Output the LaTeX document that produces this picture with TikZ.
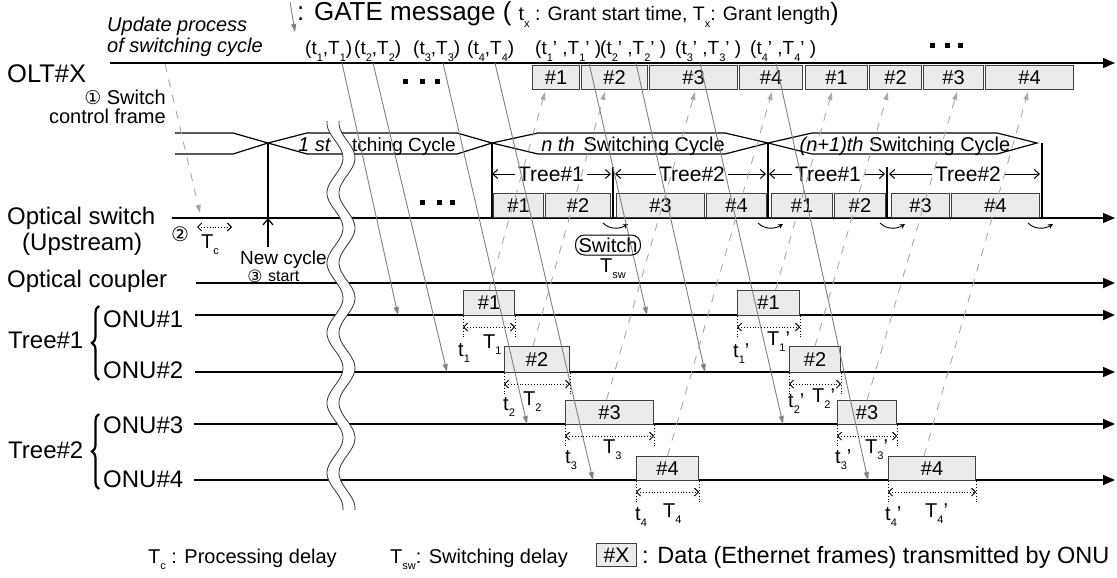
\documentclass[tikz,border=0pt]{standalone}
\usepackage{fontspec}
\setmainfont{Liberation Sans}
\newfontfamily\dejavu{DejaVu Sans}
\usetikzlibrary{arrows.meta,decorations.pathreplacing}
\newcommand\fs[1]{\fontsize{#1}{#1}\selectfont}
\newcommand\lo[1]{\raisebox{-0.6ex}{\fontsize{11}{11}\selectfont #1}}
\newcommand\frm[6]{\node[frame, anchor=north west, minimum width={(#4-#2)*1pt}, minimum height={(#5-#3)*1pt}] (#1) at (#2,#3) {#6};}
\newcommand\measure[1]{%
  \draw[mline] (#1.south west) -- ++(0,23);
  \draw[mline] (#1.south east) -- ++(0,23);
  \draw[meas] ([yshift=-11pt]#1.south west) -- ([yshift=-11pt]#1.south east);}
\definecolor{boxfill}{HTML}{EBEBEB}
\definecolor{gatec}{HTML}{808080}
\definecolor{datac}{HTML}{A8A8A8}
\begin{document}
\begin{tikzpicture}[x=1pt,y=-1pt,
  lbl/.style={font=\fs{24}, inner sep=0pt},
  txt/.style={font=\fs{20}, inner sep=0pt},
  tline/.style={line width=1.1pt, -{Triangle[length=12pt,width=10pt]}},
  tthick/.style={line width=2pt, -{Triangle[length=12pt,width=10pt]}},
  frame/.style={draw=black!75, fill=boxfill, line width=1.1pt, inner sep=0pt, font=\fs{20}},
  gate/.style={draw=gatec, line width=0.9pt, -{Triangle[length=8pt,width=5pt]}},
  data/.style={draw=datac, line width=0.9pt, dash pattern=on 8pt off 8pt, -{Triangle[length=8pt,width=5pt]}},
  meas/.style={dotted, line width=0.9pt, {Straight Barb[length=4pt,width=8pt]}-{Straight Barb[length=4pt,width=8pt]}},
  mline/.style={dotted, line width=0.9pt},
  cyc/.style={line width=2pt},
  hexline/.style={line width=1.2pt},
  treearr/.style={line width=1pt, -{Straight Barb[length=5pt,width=9pt]}},
  swarr/.style={line width=0.9pt, -{Stealth[length=5pt,width=5pt]}},
]
\useasboundingbox (0,0) rectangle (1117,578);

% ---------- time lines ----------
\coordinate (oltS) at (110,63);   \coordinate (oltE) at (1115,63);
\coordinate (swS) at (172,218);   \coordinate (swE) at (1115,218);
\coordinate (cpS) at (196,283);   \coordinate (cpE) at (1115,283);
\coordinate (n1S) at (195,315);   \coordinate (n1E) at (1115,315);
\coordinate (n2S) at (195,372);   \coordinate (n2E) at (1115,372);
\coordinate (n3S) at (194,424);   \coordinate (n3E) at (1115,424);
\coordinate (n4S) at (194,480);   \coordinate (n4E) at (1115,480);
\draw[tline] (oltS) -- (oltE);
\draw[tline] (swS) -- (swE);
\draw[tthick] (cpS) -- (cpE);
\draw[tthick] (n1S) -- (n1E);
\draw[tline] (n2S) -- (n2E);
\draw[tline] (n3S) -- (n3E);
\draw[tline] (n4S) -- (n4E);

% ---------- OLT boxes ----------
\frm{o1}{532}{65}{579}{89}{\#1}
\frm{o2}{581}{65}{647}{89}{\#2}
\frm{o3}{649}{65}{737}{89}{\#3}
\frm{o4}{739}{65}{802}{89}{\#4}
\frm{o5}{805}{65}{867}{89}{\#1}
\frm{o6}{869}{65}{921}{89}{\#2}
\frm{o7}{923}{65}{983}{89}{\#3}
\frm{o8}{985}{65}{1073}{89}{\#4}

% ---------- switch boxes ----------
\frm{s1}{493}{193}{543}{217}{\#1}
\frm{s2}{545}{193}{610}{217}{\#2}
\frm{s3}{616}{193}{704}{217}{\#3}
\frm{s4}{706}{193}{766}{217}{\#4}
\frm{s5}{771}{193}{832}{217}{\#1}
\frm{s6}{834}{193}{885}{217}{\#2}
\frm{s7}{891}{193}{949}{217}{\#3}
\frm{s8}{951}{193}{1039}{217}{\#4}

% ---------- ONU boxes ----------
\frm{u1}{463}{290}{514}{315}{\#1}
\frm{u2}{504}{346}{569}{372}{\#2}
\frm{u3}{565}{400}{653}{424}{\#3}
\frm{u4}{636}{456}{698}{480}{\#4}
\frm{v1}{737}{290}{799}{315}{\#1}
\frm{v2}{789}{346}{840}{372}{\#2}
\frm{v3}{837}{400}{896}{424}{\#3}
\frm{v4}{888}{456}{975}{480}{\#4}

% ---------- switching cycle band ----------
\draw[hexline] (175,133) -- (233,133) -- (268,143) -- (307,154) -- (457,154) -- (492,143)
  -- (538,133) -- (725,133) -- (768,143) -- (812,154) -- (997,154) -- (1037,143)
  -- (997,133) -- (812,133) -- (768,143) -- (725,154) -- (538,154) -- (492,143)
  -- (457,133) -- (307,133) -- (268,143) -- (233,154) -- (175,154);
\node[txt, anchor=base west, font=\fs{20}\itshape] (cy1a) at (298,151) {1 st};
\node[txt, anchor=base west, font=\fs{19}] (cy1b) at (352,151) {tching Cycle};
\node[txt, anchor=base] (cyn) at (633,151) {{\itshape n th}\, Switching Cycle};
\node[txt, anchor=base] (cyn1) at (905,151) {{\itshape (n+1)th} Switching Cycle};

% cycle boundaries
\coordinate (b0) at (268,143); \coordinate (b0e) at (268,218);
\coordinate (b1) at (492,143); \coordinate (b1e) at (492,219);
\coordinate (b2) at (613,167); \coordinate (b2e) at (613,219);
\coordinate (b3) at (768,143); \coordinate (b3e) at (768,219);
\coordinate (b4) at (887,167); \coordinate (b4e) at (887,219);
\coordinate (b5) at (1042,143); \coordinate (b5e) at (1042,219);
\foreach \b in {0,...,5} { \draw[cyc] (b\b) -- (b\b e); }

% tree labels with arrows
\node[font=\fs{21}, inner sep=3pt] (tr1) at (551,174) {Tree\#1};
\node[font=\fs{21}, inner sep=3pt] (tr2) at (692,174) {Tree\#2};
\node[font=\fs{21}, inner sep=3pt] (tr3) at (828,174) {Tree\#1};
\node[font=\fs{21}, inner sep=3pt] (tr4) at (968,174) {Tree\#2};
\draw[treearr] (tr1.west) -- (tr1.west -| b1) ;
\draw[treearr, shorten >=2pt] (tr1.east) -- (tr1.east -| b2);
\draw[treearr, shorten >=2pt] (tr2.west) -- (tr2.west -| b2);
\draw[treearr, shorten >=2pt] (tr2.east) -- (tr2.east -| b3);
\draw[treearr, shorten >=1pt] (tr3.west) -- (tr3.west -| b3);
\draw[treearr, shorten >=2pt] (tr3.east) -- (tr3.east -| b4);
\draw[treearr, shorten >=2pt] (tr4.west) -- (tr4.west -| b4);
\draw[treearr, shorten >=2pt] (tr4.east) -- (tr4.east -| b5);

% switching arrows under the switch line
\foreach \xx in {603,758,880,1028} {
  \draw[swarr] (\xx,223) .. controls (\xx+7,230) and (\xx+17,229) .. (\xx+25,224);
}

% ---------- GATE messages (solid grey) ----------
\coordinate (g1s) at (342,63); \coordinate (g1e) at (398,315);
\coordinate (g2s) at (373,63); \coordinate (g2e) at (447,372);
\coordinate (g3s) at (443,63); \coordinate (g3e) at (527,424);
\coordinate (g4s) at (495,63); \coordinate (g4e) at (593,480);
\coordinate (h1s) at (589,63); \coordinate (h1e) at (647,315);
\coordinate (h2s) at (636,63); \coordinate (h2e) at (705,372);
\coordinate (h3s) at (700,63); \coordinate (h3e) at (783,424);
\coordinate (h4s) at (776,63); \coordinate (h4e) at (868,480);
\foreach \g in {g1,g2,g3,g4,h1,h2,h3,h4} { \draw[gate] (\g s) -- (\g e); }

% ---------- upstream data (dashed grey) ----------
\coordinate (d1) at (545,92);  \coordinate (d2) at (605,92);
\coordinate (d3) at (695,92);  \coordinate (d4) at (772,92);
\coordinate (d5) at (832,92);  \coordinate (d6) at (888,92);
\coordinate (d7) at (957,92);  \coordinate (d8) at (1028,92);
\draw[data] (u1.north) -- (d1);
\draw[data] ([xshift=-4pt]u2.north) -- (d2);
\draw[data] ([xshift=-3pt]u3.north) -- (d3);
\draw[data] (u4.north) -- (d4);
\draw[data] ([xshift=7pt]v1.north) -- (d5);
\draw[data] (v2.north) -- (d6);
\draw[data] (v3.north) -- (d7);
\draw[data] ([xshift=-8pt]v4.north) -- (d8);
% switch control frame
\coordinate (scs) at (165,64); \coordinate (sce) at (200,213);
\draw[data] (scs) -- (sce);
% GATE legend arrow
\coordinate (ga1) at (290,2); \coordinate (ga2) at (295,32);
\draw[gate] (ga1) -- (ga2);

% ---------- wavy break ----------
\fill[white] plot[domain=121:510, samples=160] ({335-8*cos(5.143*(\x-473))}, \x)
  -- plot[domain=510:121, samples=160] ({347-8*cos(5.143*(\x-473))}, \x) -- cycle;
\draw[line width=0.8pt, black!80] plot[domain=121:510, samples=160] ({335-8*cos(5.143*(\x-473))}, \x);
\draw[line width=0.8pt, black!80] plot[domain=121:510, samples=160] ({347-8*cos(5.143*(\x-473))}, \x);

% ---------- dots ----------
\foreach \xx in {403,420,435} { \fill (\xx,79) rectangle ++(5,5); }
\foreach \xx in {930,945,958} { \fill (\xx,43) rectangle ++(5,5); }
\foreach \xx in {420,437,450} { \fill (\xx,200) rectangle ++(5,5); }

% ---------- measurement annotations ----------
\foreach \bx in {u1,u2,u3,u4,v1,v2,v3,v4} { \measure{\bx} }
\node[txt, anchor=base west] (lt1) at (458,356) {t\lo{1}};
\node[txt, anchor=base west] (lT1) at (483,348) {T\lo{1}};
\node[txt, anchor=base west] (lt2) at (503,410) {t\lo{2}};
\node[txt, anchor=base west] (lT2) at (523,405) {T\lo{2}};
\node[txt, anchor=base west] (lt3) at (565,463) {t\lo{3}};
\node[txt, anchor=base west] (lT3) at (603,453) {T\lo{3}};
\node[txt, anchor=base west] (lt4) at (635,520) {t\lo{4}};
\node[txt, anchor=base west] (lT4) at (663,517) {T\lo{4}};
\node[txt, anchor=base west] (mt1) at (733,357) {t\lo{1}'};
\node[txt, anchor=base west] (mT1) at (767,345) {T\lo{1}'};
\node[txt, anchor=base west] (mt2) at (788,407) {t\lo{2}'};
\node[txt, anchor=base west] (mT2) at (812,402) {T\lo{2}'};
\node[txt, anchor=base west] (mt3) at (835,463) {t\lo{3}'};
\node[txt, anchor=base west] (mT3) at (865,453) {T\lo{3}'};
\node[txt, anchor=base west] (mt4) at (885,520) {t\lo{4}'};
\node[txt, anchor=base west] (mT4) at (925,517) {T\lo{4}'};

% ---------- labels ----------
\node[lbl, anchor=base west, font=\fs{25.5}] (olt) at (7,82) {OLT\#X};
\node[lbl, anchor=base west] (osw) at (7,224) {Optical switch};
\node[lbl, anchor=base west] (ups) at (22,250) {(Upstream)};
\node[lbl, anchor=base west] (ocp) at (7,287) {Optical coupler};
\node[lbl, anchor=base west] (onu1) at (103,327) {ONU\#1};
\node[lbl, anchor=base west] (onu2) at (103,378) {ONU\#2};
\node[lbl, anchor=base west] (onu3) at (103,433) {ONU\#3};
\node[lbl, anchor=base west] (onu4) at (103,487) {ONU\#4};
\node[lbl, anchor=base west] (tree1) at (8,348) {Tree\#1};
\node[lbl, anchor=base west] (tree2) at (8,458) {Tree\#2};
\draw[line width=2.2pt, decorate, decoration={brace, amplitude=7pt}] (99,380) -- (99,306);
\draw[line width=2.2pt, decorate, decoration={brace, amplitude=7pt}] (99,489) -- (99,414);

\node[txt, anchor=base west, font=\fs{20}\itshape] (upd1) at (107,32) {Update process};
\node[txt, anchor=base west, font=\fs{20}\itshape] (upd2) at (107,53) {of switching cycle};
\node[txt, anchor=base east] (scf1) at (166,104) {{\dejavu\fs{19}①} Switch};
\node[txt, anchor=base east] (scf2) at (166,123) {control frame};

\node[txt, anchor=center, font=\dejavu\fs{20}] (c2) at (180,234) {②};
\node[txt, anchor=base west] (tc) at (201,248) {T\lo{c}};
\coordinate (tca) at (197,227); \coordinate (tcb) at (232,227);
\draw[meas] (tca) -- (tcb);
\draw[line width=1.2pt, -{Straight Barb[length=6pt,width=10pt]}] (268,247) -- (b0e);
\node[txt, anchor=base west, font=\fs{19}] (nc) at (240,264) {New cycle};
\node[txt, anchor=center, font=\dejavu\fs{17}] (c3) at (255,276) {③};
\node[txt, anchor=base west, font=\fs{16}] (st) at (268,281) {start};

\node[draw, rounded corners=9pt, line width=1pt, inner xsep=3pt, inner ysep=1pt,
      minimum height=20pt, font=\fs{20}] (swn) at (608,245) {Switch};
\node[txt, anchor=base west] (tsw) at (600,272) {T\lo{sw}};

% ---------- title & parameters ----------
\node[anchor=base west, inner sep=0pt] (title) at (297,21)
  {\fs{26}: GATE message ( \fs{19.5}t\lo{x} : Grant start time, T\lo{x}: Grant length\fs{25})};
\node[anchor=base west, inner sep=0pt, font=\fs{19}] (p1) at (305,55) {(t\lo{1},T\lo{1})};
\node[anchor=base west, inner sep=0pt, font=\fs{19}] (p2) at (354,55) {(t\lo{2},T\lo{2})};
\node[anchor=base west, inner sep=0pt, font=\fs{19}] (p3) at (413,55) {(t\lo{3},T\lo{3})};
\node[anchor=base west, inner sep=0pt, font=\fs{19}] (p4) at (467,55) {(t\lo{4},T\lo{4})};
\node[anchor=base west, inner sep=0pt, font=\fs{19}] (q1) at (535,55) {(t\lo{1}' ,T\lo{1}' )};
\node[anchor=base west, inner sep=0pt, font=\fs{19}] (q2) at (600,55) {(t\lo{2}' ,T\lo{2}' )};
\node[anchor=base west, inner sep=0pt, font=\fs{19}] (q3) at (675,55) {(t\lo{3}' ,T\lo{3}' )};
\node[anchor=base west, inner sep=0pt, font=\fs{19}] (q4) at (750,55) {(t\lo{4}' ,T\lo{4}' )};

% ---------- legend ----------
\node[txt, anchor=base west] (lg1) at (148,563) {T\lo{c} : Processing delay};
\node[txt, anchor=base west] (lg2) at (390,563) {T\lo{sw}: Switching delay};
\frm{lgb}{596}{543}{636}{566}{\fs{21}\#X}
\node[txt, anchor=base west, font=\fs{23.5}] (lg3) at (642,563) {: Data (Ethernet frames) transmitted by ONU};
\end{tikzpicture}
\end{document}
